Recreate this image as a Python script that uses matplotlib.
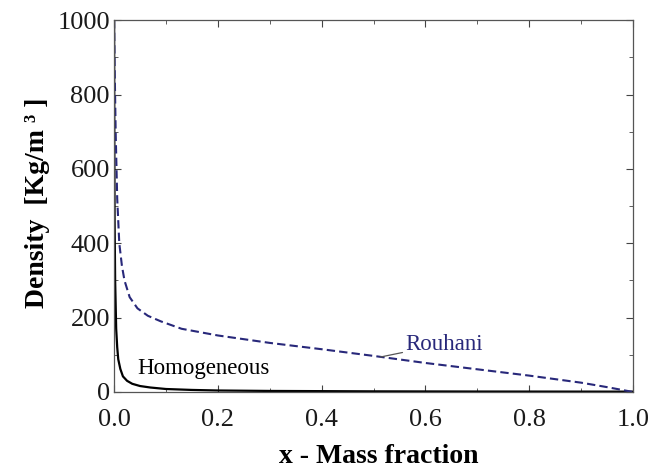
import matplotlib
matplotlib.use("Agg")
import matplotlib.pyplot as plt
from matplotlib.ticker import MultipleLocator

# values
x_homog = [0, 0.0005, 0.001, 0.002, 0.004, 0.006, 0.008, 0.012, 0.017, 0.025,
           0.035, 0.05, 0.07, 0.1, 0.15, 0.2, 0.3, 0.5, 0.7, 1.0]
rho_homog = [1000, 630, 460, 300, 170, 120, 88, 62, 42, 30,
             22, 16, 12, 8, 5.5, 4, 2.8, 1.7, 1.2, 0.9]

x_rouhani = [0, 0.001, 0.003, 0.006, 0.01, 0.015, 0.02, 0.03, 0.045, 0.065,
             0.09, 0.13, 0.2, 0.3, 0.4, 0.5, 0.6, 0.7, 0.8, 0.9, 0.95, 1.0]
rho_rouhani = [1000, 880, 700, 520, 400, 340, 300, 255, 225, 205,
               190, 170, 152, 132, 115, 97, 78, 61, 44, 25, 13, 0]

x_ticks = [0, 0.2, 0.4, 0.6, 0.8, 1.0]
x_ticklabels = ['0.0', '0.2', '0.4', '0.6', '0.8', '1.0']

plt.rcParams['font.family'] = ['Liberation Serif', 'DejaVu Serif']

fig = plt.figure(figsize=(6.52, 4.70), dpi=100)
ax = fig.add_axes([0.175, 0.166, 0.796, 0.791])

ax.plot(x_homog, rho_homog, color='black', linewidth=1.6)
ax.plot(x_rouhani, rho_rouhani, color='#28287a', linewidth=1.5,
        linestyle=(0, (4, 2)))

ax.set_xlim(0, 1.0)
ax.set_ylim(0, 1000)
ax.set_xticks(x_ticks)
ax.set_xticklabels(x_ticklabels)
ax.xaxis.set_minor_locator(MultipleLocator(0.1))
ax.yaxis.set_major_locator(MultipleLocator(200))
ax.yaxis.set_minor_locator(MultipleLocator(100))
ax.tick_params(which='both', direction='in', top=True, right=True,
               labelsize=19, color='#444444', labelcolor='#1a1a1a')
ax.tick_params(axis='x', pad=12)
ax.tick_params(axis='y', pad=3)
ax.tick_params(which='major', length=5)
ax.tick_params(which='minor', length=3)
for s in ax.spines.values():
    s.set_color('#555555')
    s.set_linewidth(0.9)

ax.set_xlabel('x - Mass fraction', fontsize=20, fontweight='bold')
ax.xaxis.set_label_coords(0.509, -0.14)
ax.set_ylabel('Density  [Kg/m ³ ]', fontsize=20, fontweight='bold')
ax.yaxis.set_label_coords(-0.124, 0.51)

ax.text(0.044, 64, 'Homogeneous', fontsize=16.5, color='black', va='center')
ax.annotate('Rouhani', xy=(0.513, 94), xytext=(0.561, 129), fontsize=16.5,
            color='#28287a', va='center',
            arrowprops=dict(arrowstyle='-', color='#555555', lw=0.9,
                            shrinkA=0, shrinkB=0))

fig.savefig('out.png', dpi=100)
